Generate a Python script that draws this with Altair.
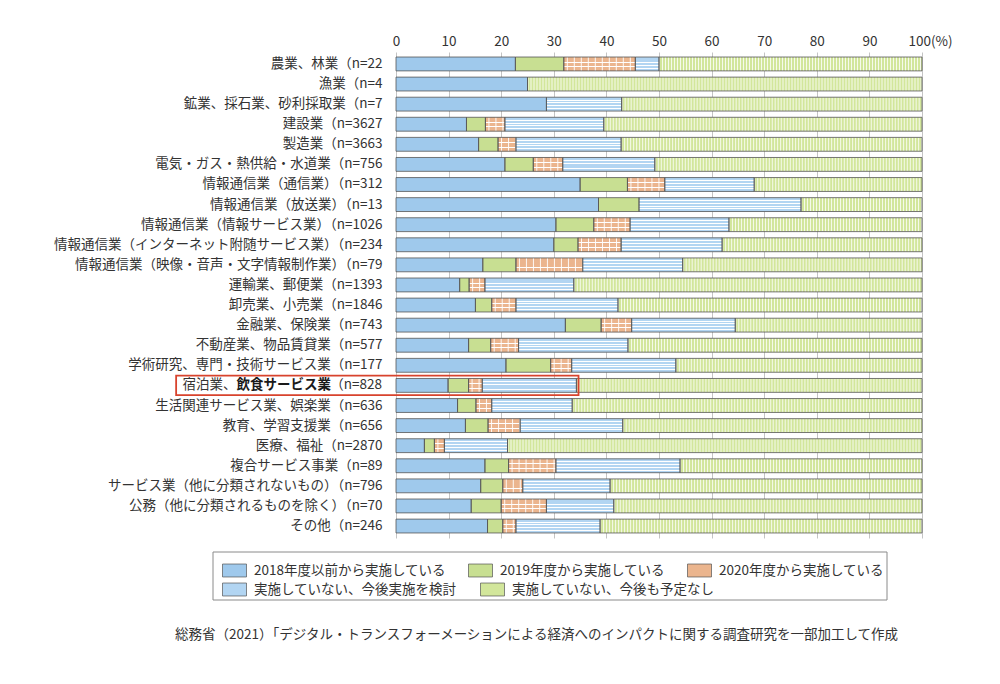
import altair as alt
import pandas as pd

FONT = "Noto Sans CJK JP"

industries = [
    "農業、林業（n=22",
    "漁業（n=4",
    "鉱業、採石業、砂利採取業（n=7",
    "建設業（n=3627",
    "製造業（n=3663",
    "電気・ガス・熱供給・水道業（n=756",
    "情報通信業（通信業）（n=312",
    "情報通信業（放送業）（n=13",
    "情報通信業（情報サービス業）（n=1026",
    "情報通信業（インターネット附随サービス業）（n=234",
    "情報通信業（映像・音声・文字情報制作業）（n=79",
    "運輸業、郵便業（n=1393",
    "卸売業、小売業（n=1846",
    "金融業、保険業（n=743",
    "不動産業、物品賃貸業（n=577",
    "学術研究、専門・技術サービス業（n=177",
    "宿泊業、飲食サービス業（n=828",
    "生活関連サービス業、娯楽業（n=636",
    "教育、学習支援業（n=656",
    "医療、福祉（n=2870",
    "複合サービス事業（n=89",
    "サービス業（他に分類されないもの）（n=796",
    "公務（他に分類されるものを除く）（n=70",
    "その他（n=246",
]

s2018 = [22.7, 25.0, 28.6, 13.4, 15.7, 20.7, 35.0, 38.5, 30.4, 30.0, 16.5, 12.1,
         15.1, 32.2, 13.8, 20.9, 9.9, 11.7, 13.2, 5.4, 16.9, 16.1, 14.3, 17.4]
s2019 = [9.2, 0.0, 0.0, 3.6, 3.7, 5.4, 9.0, 7.7, 7.2, 4.6, 6.3, 1.8,
         3.1, 6.8, 4.2, 8.5, 3.9, 3.5, 4.3, 1.9, 4.5, 4.2, 5.7, 2.9]
s2020 = [13.6, 0.0, 0.0, 3.7, 3.4, 5.6, 7.1, 0.0, 6.9, 8.2, 12.7, 3.0,
         4.6, 5.8, 5.3, 4.0, 2.6, 3.0, 6.1, 1.9, 9.0, 3.8, 8.6, 2.5]
s_consider = [4.5, 0.0, 14.3, 18.8, 20.0, 17.5, 17.0, 30.8, 18.8, 19.2, 19.0, 16.9,
              19.4, 19.7, 20.8, 19.8, 17.9, 15.3, 19.5, 12.0, 23.6, 16.6, 12.8, 16.0]
s_none = [50.0, 75.0, 57.1, 60.5, 57.2, 50.8, 31.9, 23.0, 36.7, 38.0, 45.5, 66.2,
          57.8, 35.5, 55.9, 46.8, 65.7, 66.5, 56.9, 78.8, 46.0, 59.3, 58.6, 61.2]

categories = [
    "2018年度以前から実施している",
    "2019年度から実施している",
    "2020年度から実施している",
    "実施していない、今後実施を検討",
    "実施していない、今後も予定なし",
]
colors = ["#9fc9ec", "#c8df92", "#ebb58e", "#b2d5f2", "#d2e69b"]

highlight = "宿泊業、飲食サービス業（n=828"
source_text = "総務省（2021）「デジタル・トランスフォーメーションによる経済へのインパクトに関する調査研究を一部加工して作成"

records = []
for i, name in enumerate(industries):
    vals = [s2018[i], s2019[i], s2020[i], s_consider[i], s_none[i]]
    start = 0.0
    for k, (cat, v) in enumerate(zip(categories, vals)):
        if v > 0:
            records.append({"industry": name, "category": cat, "k": k,
                            "start": round(start, 2), "end": round(start + v, 2)})
        start += v
df = pd.DataFrame(records)

TXT = "#333333"
x_axis = alt.Axis(
    orient="top", values=list(range(0, 101, 10)), title=None,
    labelExpr="datum.value == 100 ? '100(%)' : datum.label",
    labelAlign={"condition": {"test": "datum.value == 100", "value": "left"}, "value": "center"},
    labelOffset={"condition": {"test": "datum.value == 100", "value": -14}, "value": 0},
    labelFont=FONT, labelFontSize=13.5, labelColor=TXT,
    ticks=False, domain=False, labelPadding=4,
    grid=True, gridColor="#c4c4c4", gridWidth=1,
    minExtent=52, maxExtent=52,
)
x_scale = alt.Scale(domain=[0, 100], nice=False, zero=False)
y_axis = alt.Axis(
    title=None, ticks=False, domain=False, labelPadding=14,
    labelFont=FONT, labelFontSize=13.5, labelColor=TXT, labelLimit=400,
    labelExpr=f"datum.label == '{highlight}' ? '' : datum.label",
    minExtent=396, maxExtent=396,
)
y_scale = alt.Scale(paddingInner=0.31, paddingOuter=0.25)

x_enc = alt.X("start:Q", scale=x_scale, axis=x_axis)
x2_enc = alt.X2("end:Q")
y_enc = alt.Y("industry:N", sort=industries, scale=y_scale, axis=y_axis)

base = alt.Chart(df)

legend_common = dict(
    title=None, orient="none", direction="horizontal", gridAlign="none",
    symbolType="M-1,-0.54H1V0.54H-1Z", symbolSize=576,
    symbolStrokeColor="#555555", symbolStrokeWidth=0.7, symbolOpacity=1,
    labelFont=FONT, labelFontSize=13.5, labelColor=TXT,
    labelOffset=7, labelLimit=400, padding=0,
)

# row 1 of the legend: first three categories
fills_a = base.transform_filter(alt.datum.k < 3).mark_bar(strokeWidth=0).encode(
    x=x_enc, x2=x2_enc, y=y_enc,
    color=alt.Color(
        "category:N",
        scale=alt.Scale(domain=categories[:3], range=colors[:3]),
        legend=alt.Legend(legendX=-174, legendY=506, columns=3, columnPadding=21, **legend_common),
    ),
)
# row 2 of the legend: last two categories
fills_b = base.transform_filter(alt.datum.k >= 3).mark_bar(strokeWidth=0).encode(
    x=x_enc, x2=x2_enc, y=y_enc,
    color=alt.Color(
        "category:N",
        scale=alt.Scale(domain=categories[3:], range=colors[3:]),
        legend=alt.Legend(legendX=-174, legendY=525, columns=2, columnPadding=22, **legend_common),
    ),
)

WHITE = "#ffffff"


def hstripes(col, positions, w):
    stops = [{"offset": 0, "color": col}]
    for p in positions:
        stops += [{"offset": p, "color": col}, {"offset": p, "color": WHITE},
                  {"offset": p + w, "color": WHITE}, {"offset": p + w, "color": col}]
    stops.append({"offset": 1, "color": col})
    return {"gradient": "linear", "x1": 0, "y1": 0, "x2": 0, "y2": 1, "stops": stops}


consider_layer = base.transform_filter(alt.datum.k == 3).mark_bar(
    strokeWidth=0, fill=hstripes(colors[3], [0.18, 0.38, 0.58, 0.78], 0.07)
).encode(x=x_enc, x2=x2_enc, y=y_enc)

orange_h = base.transform_filter(alt.datum.k == 2).mark_bar(
    strokeWidth=0, fill=hstripes(colors[2], [0.33, 0.66], 0.07)
).encode(x=x_enc, x2=x2_enc, y=y_enc)

orange_v = base.transform_filter(alt.datum.k == 2).mark_rule(
    strokeWidth=13.9, strokeDash=[1, 6], strokeDashOffset=-3, color=WHITE, opacity=0.9
).encode(x=x_enc, x2=x2_enc, y=y_enc)

none_v = base.transform_filter(alt.datum.k == 4).mark_rule(
    strokeWidth=13.9, strokeDash=[1, 2], color=WHITE, opacity=0.8
).encode(x=x_enc, x2=x2_enc, y=y_enc)

outlines = base.mark_bar(fillOpacity=0, stroke="#555555", strokeWidth=0.8).encode(
    x=x_enc, x2=x2_enc, y=y_enc
)

hl_df = pd.DataFrame({"industry": [highlight]})
red_box = alt.Chart(hl_df).mark_bar(
    fillOpacity=0, stroke="#d8432d", strokeWidth=1.8
).encode(
    x=alt.X(datum=-41.8, type="quantitative", scale=x_scale, axis=x_axis),
    x2=alt.X2(datum=34.7),
    y=y_enc,
    size=alt.value(19.5),
)

lab_parts = [("（n=828", "normal", -14), ("飲食サービス業", "bold", -65), ("宿泊業、", "normal", -159.5)]
label_layers = []
for txt, weight, px in lab_parts:
    label_layers.append(
        alt.Chart(pd.DataFrame({"industry": [highlight], "txt": [txt]})).mark_text(
            align="right", baseline="middle", font=FONT, fontSize=13.5,
            fontWeight=weight, color="#1a1a1a" if weight == "bold" else TXT,
        ).encode(x=alt.value(px), y=y_enc, text="txt:N")
    )

legend_box = alt.Chart(hl_df).mark_rect(
    fillOpacity=0, stroke="#8a8a8a", strokeWidth=1
).encode(
    x=alt.value(-183), x2=alt.value(491), y=alt.value(500), y2=alt.value(548)
)

chart = alt.layer(
    legend_box, fills_a, fills_b, consider_layer, orange_h, orange_v, none_v, outlines,
    red_box, *label_layers
).resolve_scale(color="independent").properties(
    width=526, height=486,
    padding={"left": 0, "top": 0, "right": 10, "bottom": 10},
    title=alt.Title(
        text=source_text, orient="bottom", anchor="start", dx=175, offset=27,
        font=FONT, fontSize=13.5, fontWeight="normal", color=TXT,
    ),
).configure_view(strokeWidth=0)

chart.save("out.html", embed_options={"renderer": "svg", "actions": False})
